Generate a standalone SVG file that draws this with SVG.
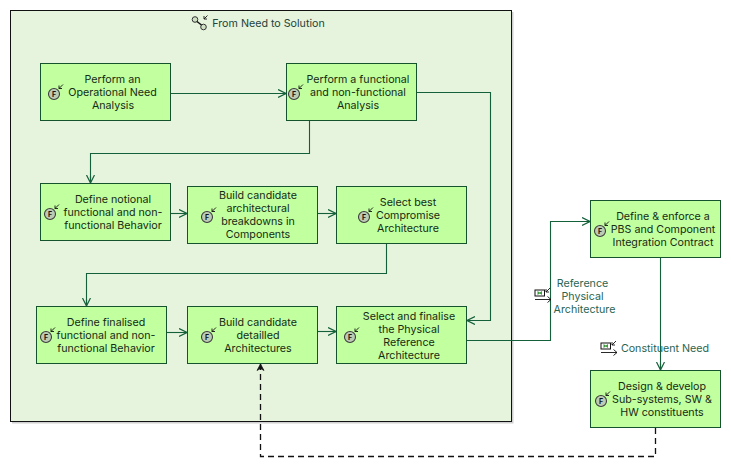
<svg xmlns="http://www.w3.org/2000/svg" width="731" height="470" viewBox="0 0 731 470">
<style>
text{font-family:Inter,"Liberation Sans",sans-serif;font-size:10.7px;fill:#152b15;text-anchor:middle}
.lbl{fill:#2a6450}
.box{fill:#c2ff9f;stroke:#14532d;stroke-width:1}
.c{fill:none;stroke:#14603a;stroke-width:1.1}
.d{fill:none;stroke:#111;stroke-width:1.3;stroke-dasharray:6 4}
.ic{fill:#bcccb4;stroke:#3c3c3c;stroke-width:1.1}
.f{font-size:7px;font-weight:700;fill:#111}
.t{fill:none;stroke:#111;stroke-width:.9}
</style>
<defs>
<marker id="a" markerWidth="9" markerHeight="10" refX="8" refY="4.5" orient="auto" markerUnits="userSpaceOnUse"><path d="M0 .5L8 4.5L0 8.500M1.500 4.500H8" fill="none" stroke="#14603a" stroke-width="1.200"/></marker>
<marker id="b" markerWidth="9" markerHeight="10" refX="8" refY="4.5" orient="auto" markerUnits="userSpaceOnUse"><path d="M1.500 1L8 4.500L1.500 8L3.500 4.500Z" fill="#111" stroke="#111" stroke-width=".7"/></marker>
<g id="fi"><circle cx="0" cy="0" r="5.500" class="ic"/><text y="2.500" class="f">F</text><path class="t" d="M5 -5.500L9 -9.500M5 -5.500V-8.500M5 -5.500H8"/></g>
<g id="ex"><rect x="0" y="0" width="9.500" height="6" fill="#fff" stroke="#111" stroke-width="1"/><path d="M2.500 1L4.800 2.500L7 1V5L4.800 3.500L2.500 5Z" fill="#3f9a3f"/><path class="t" d="M11 2L15 -2M11 2V-1M11 2H14"/><path class="t" d="M0 9.500H16M12.500 6.500L16 9.500L12.500 12.500"/></g>
</defs>
<g id="container">
<rect x="12" y="12" width="501.500" height="411.500" fill="#cfcfd2"/>
<rect x="10.500" y="10.500" width="501" height="411" fill="#e6f3dd" stroke="#111" stroke-width="1"/>
<circle cx="195" cy="19.500" r="2.800" fill="#cfe0c5" stroke="#333"/><circle cx="203.500" cy="27" r="2.800" fill="#cfe0c5" stroke="#333"/><path d="M197 21.500L201.500 25" stroke="#111" stroke-width="1.500"/><path class="t" d="M204 19L207.500 15.500M204 19V16M204 19H207"/>
<text x="268.500" y="27" style="fill:#24423a">From Need to Solution</text>
</g>
<g id="connectors">
<path class="c" marker-end="url(#a)" d="M170.500 93.500H286"/>
<path class="c" marker-end="url(#a)" d="M309.500 121V153.500H90.500V183"/>
<path class="c" marker-end="url(#a)" d="M416.500 92.500H490.500V320.500H467"/>
<path class="c" marker-end="url(#a)" d="M170 213.500H187"/>
<path class="c" marker-end="url(#a)" d="M317 213.500H336"/>
<path class="c" marker-end="url(#a)" d="M386.500 243V273.500H86.500V306"/>
<path class="c" marker-end="url(#a)" d="M166 332.500H187"/>
<path class="c" marker-end="url(#a)" d="M317 331.500H336"/>
<path class="c" marker-end="url(#a)" d="M466.500 340.500H550.500V221.500H590"/>
<path class="c" marker-end="url(#a)" d="M660.500 257V370"/>
<path class="d" marker-end="url(#b)" d="M655.500 428V456.500H260.500V364"/>
</g>
<g id="n1"><rect class="box" x="40.500" y="63.500" width="130" height="57"/><use href="#fi" x="54" y="94"/><text x="112.500" y="83">Perform an</text><text x="112.500" y="96">Operational Need</text><text x="113" y="109">Analysis</text></g>
<g id="n2"><rect class="box" x="286.500" y="63.500" width="130" height="57"/><use href="#fi" x="294" y="94"/><text x="358" y="83">Perform a functional</text><text x="358" y="96">and non-functional</text><text x="358" y="109">Analysis</text></g>
<g id="n3"><rect class="box" x="40.500" y="183.500" width="130" height="57"/><use href="#fi" x="50" y="214"/><text x="113" y="203">Define notional</text><text x="113" y="216">functional and non-</text><text x="113" y="229">functional Behavior</text></g>
<g id="n4"><rect class="box" x="187.500" y="186.500" width="130" height="57"/><use href="#fi" x="207" y="217"/><text x="258" y="199">Build candidate</text><text x="258" y="212">architectural</text><text x="258" y="225">breakdowns in</text><text x="258" y="238">Components</text></g>
<g id="n5"><rect class="box" x="336.500" y="186.500" width="130" height="57"/><use href="#fi" x="364" y="217"/><text x="408" y="206">Select best</text><text x="408" y="219">Compromise</text><text x="408" y="232">Architecture</text></g>
<g id="n6"><rect class="box" x="36.500" y="306.500" width="130" height="57"/><use href="#fi" x="46" y="337"/><text x="106" y="326">Define finalised</text><text x="106" y="339">functional and non-</text><text x="106" y="352">functional Behavior</text></g>
<g id="n7"><rect class="box" x="187.500" y="306.500" width="130" height="57"/><use href="#fi" x="207" y="337"/><text x="258" y="326">Build candidate</text><text x="258" y="339">detailled</text><text x="258" y="352">Architectures</text></g>
<g id="n8"><rect class="box" x="336.500" y="306.500" width="130" height="57"/><use href="#fi" x="350" y="337"/><text x="409" y="320">Select and finalise</text><text x="409" y="333">the Physical</text><text x="409" y="346">Reference</text><text x="409" y="359">Architecture</text></g>
<g id="n9"><rect class="box" x="590.500" y="200.500" width="130" height="57"/><use href="#fi" x="600" y="231"/><text x="663" y="220">Define &amp; enforce a</text><text x="663" y="233">PBS and Component</text><text x="663" y="246">Integration Contract</text></g>
<g id="n10"><rect class="box" x="590.500" y="370.500" width="130" height="57"/><use href="#fi" x="601" y="401"/><text x="662" y="390">Design &amp; develop</text><text x="662" y="403">Sub-systems, SW &amp;</text><text x="662" y="416">HW constituents</text></g>
<g id="flow-labels">
<use href="#ex" x="535" y="290"/>
<text class="lbl" x="582.500" y="287">Reference</text><text class="lbl" x="582.500" y="300">Physical</text><text class="lbl" x="584.500" y="313">Architecture</text>
<use href="#ex" x="601" y="343"/>
<text class="lbl" x="665" y="352">Constituent Need</text>
</g>
</svg>
